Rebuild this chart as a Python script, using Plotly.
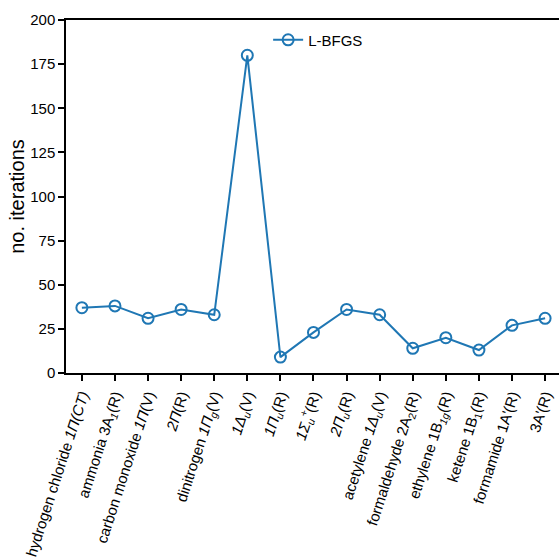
import plotly.graph_objects as go

categories = [
    "hydrogen chloride <i>1Π(CT)</i>",
    "ammonia 3A<sub><i>1</i></sub>(R)",
    "carbon monoxide <i>1Π</i>(V)",
    "<i>2Π</i>(R)",
    "dinitrogen <i>1Π<sub>g</sub></i>(V)",
    "<i>1Δ<sub>u</sub></i>(V)",
    "<i>1Π<sub>u</sub></i>(R)",
    "<i>1Σ<sub>u</sub><sup>+</sup></i>(R)",
    "<i>2Π<sub>u</sub></i>(R)",
    "acetylene <i>1Δ<sub>u</sub></i>(V)",
    "formaldehyde 2A<sub>2</sub>(R)",
    "ethylene 1B<sub><i>1g</i></sub>(R)",
    "ketene 1B<sub>1</sub>(R)",
    "formamide 1A'(R)",
    "3A'(R)",
]
iterations = [37, 38, 31, 36, 33, 180, 9, 23, 36, 33, 14, 20, 13, 27, 31]
yticks = [0, 25, 50, 75, 100, 125, 150, 175, 200]

color = "#1f77b4"
fig = go.Figure()
fig.add_trace(go.Scatter(
    x=list(range(len(categories))), y=iterations, mode="lines+markers", name="L-BFGS",
    line=dict(color=color, width=2),
    marker=dict(symbol="circle-open", size=11, color=color, line=dict(width=2, color=color)),
))

fig.update_layout(
    width=559, height=560,
    margin=dict(l=66, r=0, t=20, b=187),
    paper_bgcolor="white", plot_bgcolor="white",
    font=dict(family="Liberation Sans, Arial, sans-serif", size=15, color="black"),
    showlegend=True,
    legend=dict(x=0.41, y=0.99, xanchor="left", yanchor="top", bgcolor="rgba(0,0,0,0)",
                font=dict(size=15)),
    xaxis=dict(
        range=[-0.48, 14.42], tickmode="array", tickvals=list(range(len(categories))),
        ticktext=categories, tickangle=-72, showgrid=False, zeroline=False,
        showline=True, linecolor="black", linewidth=1.5, mirror=True,
        ticks="outside", ticklen=6, tickwidth=1.5, tickcolor="black",
        tickfont=dict(size=15),
    ),
    yaxis=dict(
        range=[0, 200], tickmode="array", tickvals=yticks,
        showgrid=False, zeroline=False,
        showline=True, linecolor="black", linewidth=1.5,
        ticks="outside", ticklen=6, tickwidth=1.5, tickcolor="black",
        tickfont=dict(size=15),
        title=dict(text="no. iterations", font=dict(size=20), standoff=0),
    ),
)
fig.write_html("out.html", config={"displayModeBar": False},
               post_script="document.body.style.margin='0';")
